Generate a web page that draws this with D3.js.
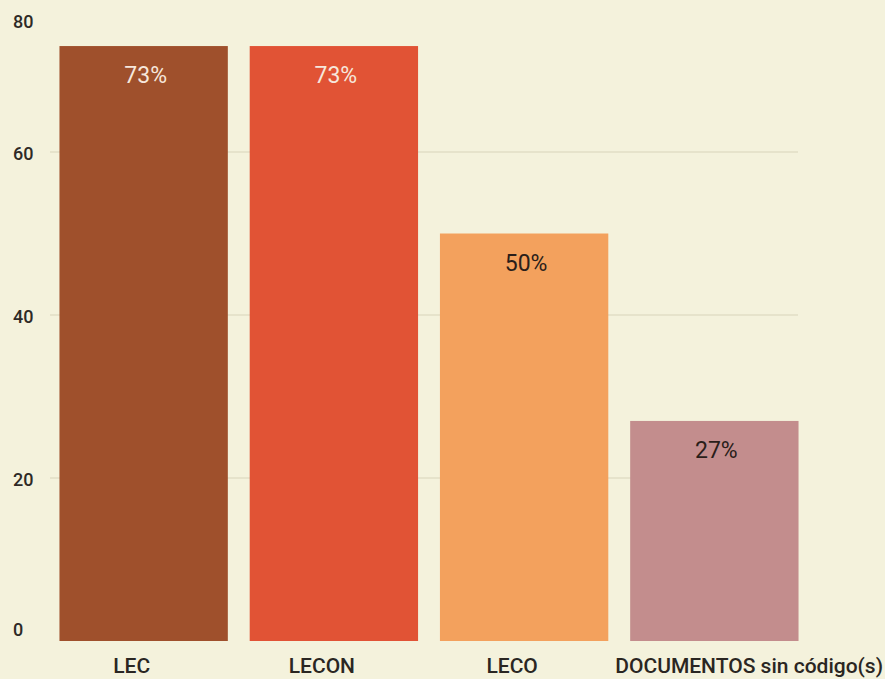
<!DOCTYPE html>
<html>
<head>
<meta charset="utf-8">
<script src="https://cdn.jsdelivr.net/npm/d3@7"></script>
<style>
  body { margin: 0; background: #f4f2dc; }
  svg { display: block; font-family: Roboto, "Noto Sans", sans-serif; }
</style>
</head>
<body>
<script>
//chart data
var categories = ["LEC", "LECON", "LECO", "DOCUMENTOS sin código(s)"];
var values = [73, 73, 50, 27];
var valueLabels = ["73%", "73%", "50%", "27%"];
var yTicks = [0, 20, 40, 60, 80];
var barColors = ["#9f502c", "#e15335", "#f3a15d", "#c38d8d"];
var labelColors = ["#f6e7dc", "#f6e7dc", "#2a1e1a", "#2a1e1a"];

var width = 885,
    height = 679;

var svg = d3.select("body")
    .append("svg")
    .attr("width", width)
    .attr("height", height);

//scales
var x = d3.scaleBand()
    .domain(categories)
    .range([49, 809])
    .paddingInner(0.115)
    .paddingOuter(0.055);

var y = d3.scaleLinear()
    .domain([0, 60])
    .range([641, 152]);

//grid lines
svg.selectAll(".grid")
    .data(yTicks.filter(function(d){ return d > 0 && d < 80; }))
    .enter()
    .append("line")
    .attr("class", "grid")
    .attr("x1", 50)
    .attr("x2", 798)
    .attr("y1", function(d){ return y(d); })
    .attr("y2", function(d){ return y(d); })
    .attr("stroke", "#e2dec6")
    .attr("stroke-width", 1.5);

//y tick labels, kept inside the frame
svg.selectAll(".ytick")
    .data(yTicks)
    .enter()
    .append("text")
    .attr("class", "ytick")
    .attr("x", 13)
    .attr("y", function(d){ return Math.min(Math.max(y(d) + 2, 22), 630); })
    .attr("dy", "0.35em")
    .attr("font-size", 18)
    .attr("font-weight", 500)
    .attr("fill", "#2e2a26")
    .text(function(d){ return d; });

//bars
svg.selectAll(".bar")
    .data(values)
    .enter()
    .append("rect")
    .attr("class", "bar")
    .attr("x", function(d, i){ return x(categories[i]); })
    .attr("y", function(d){ return y(d); })
    .attr("width", x.bandwidth())
    .attr("height", function(d){ return y(0) - y(d); })
    .attr("fill", function(d, i){ return barColors[i]; });

//value labels
svg.selectAll(".vlabel")
    .data(values)
    .enter()
    .append("text")
    .attr("class", "vlabel")
    .attr("x", function(d, i){ return x(categories[i]) + x.bandwidth() / 2 + 2; })
    .attr("y", function(d){ return y(d) + 37; })
    .attr("text-anchor", "middle")
    .attr("font-size", 23)
    .attr("fill", function(d, i){ return labelColors[i]; })
    .text(function(d, i){ return valueLabels[i]; });

//x axis labels: nudged left, long ones pushed to the right edge
svg.selectAll(".xlabel")
    .data(categories)
    .enter()
    .append("text")
    .attr("class", "xlabel")
    .attr("y", 673)
    .attr("font-size", 21)
    .attr("font-weight", 500)
    .attr("fill", "#2a2622")
    .text(function(d){ return d; })
    .attr("x", function(d){
        var w = this.getComputedTextLength();
        if (w > x.bandwidth()) return width - 2 - w;
        return x(d) + x.bandwidth() / 2 - 12 - w / 2;
    });
</script>
</body>
</html>
